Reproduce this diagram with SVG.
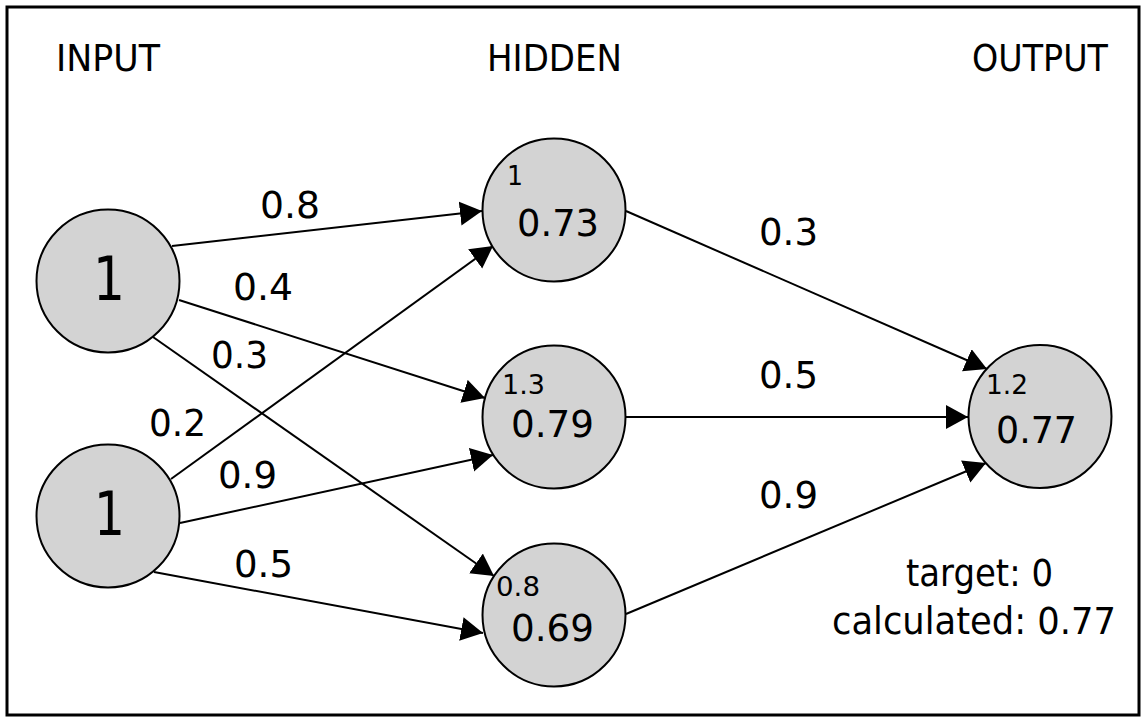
<svg xmlns="http://www.w3.org/2000/svg" width="1143" height="717" viewBox="0 0 1143 717">
<style>
.node{fill:#d3d3d3;stroke:#000;stroke-width:2}
.edge{stroke:#000;stroke-width:2;fill:none;marker-end:url(#arr)}
text{font-family:"DejaVu Sans","Liberation Sans",sans-serif;fill:#000}
.hdr{font-size:37px}
.w{font-size:37px}
.big{font-size:60px}
.sm{font-size:26px}
</style>
<defs>
<marker id="arr" markerUnits="userSpaceOnUse" markerWidth="24" markerHeight="26" refX="22" refY="12" orient="auto" viewBox="0 0 24 26">
<path d="M0,0 L22,12 L0,24 z" fill="#000"/>
</marker>
</defs>
<rect x="7" y="7" width="1132" height="708" fill="#fff" stroke="#000" stroke-width="3"/>
<g id="headers">
<text class="hdr" x="56" y="71" textLength="104" lengthAdjust="spacingAndGlyphs">INPUT</text>
<text class="hdr" x="487" y="71" textLength="135" lengthAdjust="spacingAndGlyphs">HIDDEN</text>
<text class="hdr" x="972" y="71" textLength="136" lengthAdjust="spacingAndGlyphs">OUTPUT</text>
</g>
<g id="connectors">
<line class="edge" x1="172" y1="246" x2="482" y2="211"/>
<line class="edge" x1="179" y1="300" x2="485" y2="398"/>
<line class="edge" x1="153" y1="337" x2="494" y2="576"/>
<line class="edge" x1="171" y1="479" x2="493" y2="246"/>
<line class="edge" x1="180" y1="523" x2="493" y2="455"/>
<line class="edge" x1="154" y1="572" x2="483" y2="633"/>
<line class="edge" x1="626" y1="211" x2="987" y2="369"/>
<line class="edge" x1="626" y1="417" x2="968" y2="417"/>
<line class="edge" x1="626" y1="614" x2="986" y2="463"/>
</g>
<g id="weights">
<text class="w" x="260" y="218" textLength="60" lengthAdjust="spacingAndGlyphs">0.8</text>
<text class="w" x="233" y="300" textLength="60" lengthAdjust="spacingAndGlyphs">0.4</text>
<text class="w" x="211" y="368" textLength="57" lengthAdjust="spacingAndGlyphs">0.3</text>
<text class="w" x="149" y="436" textLength="57" lengthAdjust="spacingAndGlyphs">0.2</text>
<text class="w" x="218" y="488" textLength="59" lengthAdjust="spacingAndGlyphs">0.9</text>
<text class="w" x="234" y="577" textLength="59" lengthAdjust="spacingAndGlyphs">0.5</text>
<text class="w" x="759" y="245" textLength="59" lengthAdjust="spacingAndGlyphs">0.3</text>
<text class="w" x="759" y="388" textLength="59" lengthAdjust="spacingAndGlyphs">0.5</text>
<text class="w" x="759" y="508" textLength="59" lengthAdjust="spacingAndGlyphs">0.9</text>
</g>
<g id="input1">
<circle class="node" cx="108" cy="281" r="71.5"/>
<text class="big" x="93" y="300" textLength="32" lengthAdjust="spacingAndGlyphs">1</text>
</g>
<g id="input2">
<circle class="node" cx="108" cy="516" r="71.5"/>
<text class="big" x="94" y="535" textLength="31" lengthAdjust="spacingAndGlyphs">1</text>
</g>
<g id="hidden1">
<circle class="node" cx="554" cy="210" r="71.5"/>
<text class="sm" x="507" y="185" textLength="16" lengthAdjust="spacingAndGlyphs">1</text>
<text class="w" x="517" y="236" textLength="82" lengthAdjust="spacingAndGlyphs">0.73</text>
</g>
<g id="hidden2">
<circle class="node" cx="554" cy="417" r="71.5"/>
<text class="sm" x="502" y="394" textLength="43" lengthAdjust="spacingAndGlyphs">1.3</text>
<text class="w" x="511" y="437" textLength="83" lengthAdjust="spacingAndGlyphs">0.79</text>
</g>
<g id="hidden3">
<circle class="node" cx="554" cy="615" r="71.5"/>
<text class="sm" x="496" y="596" textLength="44" lengthAdjust="spacingAndGlyphs">0.8</text>
<text class="w" x="511" y="641" textLength="83" lengthAdjust="spacingAndGlyphs">0.69</text>
</g>
<g id="output">
<circle class="node" cx="1040" cy="416.5" r="71.5"/>
<text class="sm" x="986" y="394" textLength="42" lengthAdjust="spacingAndGlyphs">1.2</text>
<text class="w" x="996" y="443" textLength="81" lengthAdjust="spacingAndGlyphs">0.77</text>
</g>
<g id="result">
<text class="w" x="906" y="586" textLength="147" lengthAdjust="spacingAndGlyphs">target: 0</text>
<text class="w" x="832" y="634" textLength="284" lengthAdjust="spacingAndGlyphs">calculated: 0.77</text>
</g>
</svg>
